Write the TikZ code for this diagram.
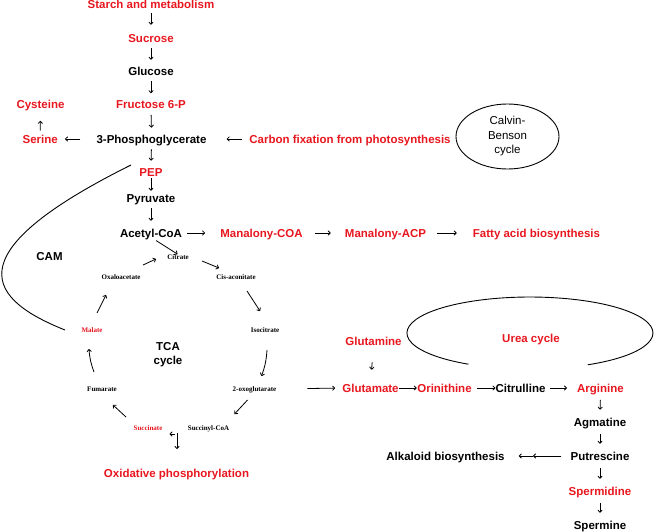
\documentclass[tikz,border=0pt]{standalone}
\usepackage{fontspec}
\setmainfont{Liberation Sans}
\newfontfamily\tcaserif{Liberation Serif}
\usetikzlibrary{arrows.meta,shapes.geometric,calc}
\definecolor{pathred}{RGB}{232,22,30}
\begin{document}
\begin{tikzpicture}[x=1pt,y=-1pt,
  lbl/.style={font=\fontsize{11.5}{13.8}\selectfont\bfseries, inner sep=0pt, text height=8.3pt, text depth=0pt, anchor=center},
  rlbl/.style={lbl, text=pathred},
  multi/.style={font=\fontsize{11.5}{14}\selectfont\bfseries, inner sep=0pt, align=center},
  tca/.style={font=\tcaserif\fontsize{7}{8}\selectfont\bfseries, inner sep=0pt, text height=4.7pt, text depth=0pt},
  rtca/.style={tca, text=pathred},
  arr/.style={-{To[length=3pt,width=5pt]}, line width=0.8pt},
  vd/.style={arr, shorten <=6pt, shorten >=7pt},
  rv/.style={arr, shorten <=7.5pt, shorten >=8pt},
  loopline/.style={line width=0.9pt}
]
\useasboundingbox (0,0) rectangle (655,532);

% main column
\node[rlbl] (starch) at (151,4) {Starch and metabolism};
\node[rlbl] (sucrose) at (151,38) {Sucrose};
\node[lbl] (glucose) at (151,71) {Glucose};
\node[rlbl] (fruc) at (151,104.5) {Fructose 6-P};
\node[lbl] (pg) at (151.5,139) {3-Phosphoglycerate};
\node[rlbl] (cys) at (40.5,104.5) {Cysteine};
\node[rlbl] (ser) at (40.2,139) {Serine};
\node[rlbl] (carb) at (350,139) {Carbon fixation from photosynthesis};
\node[draw, ellipse, minimum width=103pt, minimum height=65pt, line width=0.9pt, inner sep=0pt, align=center, font=\fontsize{11.5}{14.5}\selectfont] (calvin) at (507.5,136.5) {Calvin-\\Benson\\cycle};
\node[rlbl] (pep) at (151,172) {PEP};
\node[lbl] (pyr) at (151,198) {Pyruvate};
\node[lbl] (acetyl) at (151,233) {Acetyl-CoA};
\node[rlbl] (mcoa) at (261.5,233) {Manalony-COA};
\node[rlbl] (macp) at (385.5,233) {Manalony-ACP};
\node[rlbl] (fatty) at (536.5,233) {Fatty acid biosynthesis};
\node[lbl] (cam) at (49.5,256) {CAM};

% TCA cycle
\node[tca] (cit) at (178,257) {Citrate};
\node[tca] (cis) at (236,277) {Cis-aconitate};
\node[tca] (oxa) at (121,277) {Oxaloacetate};
\node[tca] (iso) at (265,330) {Isocitrate};
\node[rtca] (mal) at (92,330) {Malate};
\node[multi] (tcalbl) at (168,355) {TCA\\cycle};
\node[tca] (fum) at (102,389) {Fumarate};
\node[tca] (oxo) at (254.5,389) {2-oxoglutarate};
\node[tca] (sucl) at (208.5,428) {Succinyl-CoA};
\node[rtca] (succ) at (148,428) {Succinate};
\node[rlbl] (oxp) at (176.5,473) {Oxidative phosphorylation};

% urea / polyamines
\node[rlbl] (glun) at (373.5,341) {Glutamine};
\node[rlbl] (glu) at (370.5,388) {Glutamate};
\node[rlbl] (orn) at (444.5,388) {Orinithine};
\node[lbl] (citr) at (520.5,388) {Citrulline};
\node[rlbl] (arg) at (600.5,388) {Arginine};
\node[rlbl] (urea) at (531,338) {Urea cycle};
\node[lbl] (agm) at (600,422) {Agmatine};
\node[lbl] (put) at (600,456) {Putrescine};
\node[lbl] (alk) at (445.5,456) {Alkaloid biosynthesis};
\node[rlbl] (spd) at (600,491) {Spermidine};
\node[lbl] (spm) at (600,525) {Spermine};
\coordinate (dm) at (533,456);

% main column arrows
\draw[arr, shorten <=5pt, shorten >=9pt] (starch.south) -- (sucrose.north);
\draw[vd] (sucrose.south) -- (glucose.north);
\draw[vd] (glucose.south) -- (fruc.north);
\draw[vd] (fruc.south) -- (pg.north);
\draw[vd] (pg.south) -- (pep.north);
\draw[arr, shorten <=2pt, shorten >=3pt] (pep.south) -- (pyr.north);
\draw[vd, shorten >=8pt] (pyr.south) -- (acetyl.north);
\draw[arr, shorten <=6pt, shorten >=0.6pt] (acetyl.south) -- (cit.north);
\draw[arr, shorten <=16pt, shorten >=7pt] (pg.west) -- (ser.east);
\draw[arr, shorten <=4pt, shorten >=12pt] (ser.north) -- (cys.south);
\draw[arr, shorten <=7pt, shorten >=20pt] (carb.west) -- (pg.east);
\draw[arr, shorten <=5pt, shorten >=15pt] (acetyl.east) -- (mcoa.west);
\draw[arr, shorten <=12pt, shorten >=14pt] (mcoa.east) -- (macp.west);
\draw[arr, shorten <=11pt, shorten >=16pt] (macp.east) -- (fatty.west);

% CAM
\draw[loopline] ([shift={(-20,-7)}]pep.center) .. controls (-50,255) and (-10,300) .. ([shift={(-27,0)}]mal.center);

% TCA arrows
\draw[arr] ([shift={(22,-12)}]oxa.center) -- ([shift={(-22,2)}]cit.center);
\draw[arr] ([shift={(24,4)}]cit.center) -- ([shift={(-17,-9)}]cis.center);
\draw[arr] ([shift={(11,14)}]cis.center) -- ([shift={(-5,-19)}]iso.center);
\draw[arr] ([shift={(2,20)}]iso.center) to[bend left=8] ([shift={(7,-13)}]oxo.center);
\draw[arr] ([shift={(-7,11)}]oxo.center) -- ([shift={(-20,25)}]oxo.center);
\draw[arr] ([shift={(-33.5,6)}]sucl.center) -- ([shift={(-39,6)}]sucl.center);
\draw[arr] ([shift={(-31.5,5)}]sucl.center) -- ([shift={(0.5,-24)}]oxp.center);
\draw[arr] ([shift={(-22,-11)}]succ.center) -- ([shift={(11,16)}]fum.center);
\draw[arr] ([shift={(-8,-17)}]fum.center) to[bend left=8] ([shift={(-3,19)}]mal.center);
\draw[arr] ([shift={(5,-17)}]mal.center) -- ([shift={(-15,18)}]oxa.center);

% urea / polyamine arrows
\draw[arr, shorten <=31pt, shorten >=7pt] (oxo.east) -- (glu.west);
\draw[arr, shorten <=17pt, shorten >=14pt] (glun.south) -- (glu.north);
\draw[arr, shorten <=0pt, shorten >=0.5pt] (glu.east) -- (orn.west);
\draw[arr, shorten <=5pt, shorten >=0pt] (orn.east) -- (citr.west);
\draw[arr, shorten <=4pt, shorten >=10pt] (citr.east) -- (arg.west);
\draw[rv] (arg.south) -- (agm.north);
\draw[rv] (agm.south) -- (put.north);
\draw[rv] (put.south) -- (spd.north);
\draw[rv] (spd.south) -- (spm.north);
\draw[arr, shorten <=9pt] (put.west) -- (dm);
\draw[arr, shorten >=14pt] (dm) -- (alk.east);

% urea loop
\draw[loopline] (587.7,364.8) arc[start angle=-62, end angle=240, x radius=123pt, y radius=36pt];
\end{tikzpicture}
\end{document}
